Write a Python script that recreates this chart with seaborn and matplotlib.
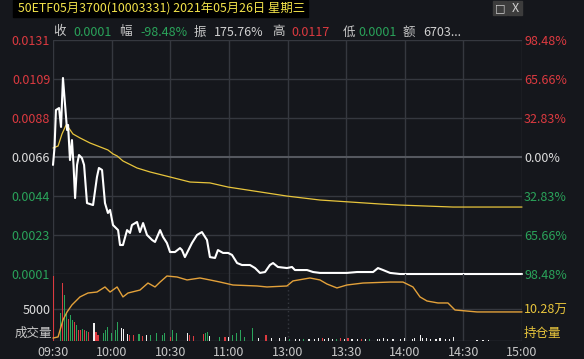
import numpy as np
import pandas as pd
import seaborn as sns
import matplotlib.pyplot as plt
from matplotlib.patches import Rectangle

# 分时数据：分钟序号 (0 = 09:30, 120 = 11:30/13:00, 240 = 15:00)
price_min = [0, 0.8, 1.5, 3.1, 4.1, 5.1, 6.1, 7.2, 7.7, 8.7, 9.7, 10.5, 11.3, 12.3, 13.3,
             14.8, 15.9, 17.4, 20.5, 22.5, 23.5, 25.1, 26.6, 28.1, 29.2, 30.7, 33.3, 34.3,
             35.8, 37.9, 39.4, 40.4, 43.0, 44.5, 46.1, 48.1, 50.7, 52.2, 54.8, 56.3, 58.3,
             59.9, 62.4, 65.0, 66.0, 67.5, 71.1, 73.7, 76.2, 78.8, 80.3, 82.9, 84.4, 87.0,
             89.6, 91.6, 94.2, 96.7, 100.8, 103.4, 105.9, 108.5, 111.0, 112.6, 115.1, 119.7,
             122.3, 123.8, 130.0, 133.1, 136.6, 143.3, 150.4, 155.6, 160.7, 163.8, 166.3,
             168.9, 172.5, 177.6, 240]
price = [0.00616, 0.00716, 0.00921, 0.00932, 0.00827, 0.01099, 0.0096, 0.0081, 0.00838,
         0.00643, 0.00754, 0.00616, 0.00432, 0.00616, 0.00671, 0.00654, 0.00616, 0.00404,
         0.00393, 0.00549, 0.00599, 0.00588, 0.00404, 0.00349, 0.00366, 0.00282, 0.00254,
         0.00171, 0.00171, 0.00254, 0.00238, 0.00282, 0.00299, 0.00243, 0.00293, 0.00227,
         0.00199, 0.00188, 0.00254, 0.00216, 0.00182, 0.00132, 0.00132, 0.00154, 0.00143,
         0.00104, 0.00182, 0.00227, 0.00243, 0.00199, 0.00104, 0.00099, 0.00143, 0.00127,
         0.00127, 0.00116, 0.00071, 0.0006, 0.0006, 0.00043, 0.00016, 0.00021, 0.0006,
         0.00071, 0.00049, 0.00043, 0.00049, 0.00032, 0.00032, 0.00021, 0.00016, 0.00016,
         0.00016, 0.00021, 0.00021, 0.00021, 0.00043, 0.00032, 0.00016, 0.0001, 0.0001]

avg_min = [0, 2.6, 4.6, 6.7, 7.7, 10.2, 13.8, 18.9, 24.1, 28.1, 30.7, 32.8, 35.8, 43.0,
           49.6, 59.9, 70.1, 80.3, 89.6, 105.9, 119.7, 136.6, 152.0, 167.3, 177.6, 204.7, 240]
avg_price = [0.0071, 0.00721, 0.00788, 0.00838, 0.00827, 0.00788, 0.00766, 0.00738, 0.00716,
             0.00699, 0.00677, 0.00666, 0.00638, 0.00599, 0.00577, 0.00549, 0.00521, 0.00516,
             0.00493, 0.00466, 0.00443, 0.00421, 0.0041, 0.00399, 0.00393, 0.00382, 0.00382]

# 持仓量 (万)
oi_min = [0, 2.6, 5.1, 7.2, 9.7, 13.8, 17.9, 22.5, 26.6, 29.2, 32.8, 35.8, 38.4, 44.5, 48.6,
          52.2, 54.8, 58.3, 63.5, 68.6, 75.2, 80.3, 85.5, 92.1, 104.4, 109.5, 119.7, 122.8,
          131.5, 136.6, 140.2, 145.3, 150.4, 158.6, 172.5, 179.1, 184.2, 187.8, 191.4, 197.0,
          202.1, 205.7, 217.0, 240]
oi_wan = [8.21, 8.29, 9.50, 10.07, 10.57, 11.14, 11.42, 11.49, 11.85, 11.49, 11.85, 11.14,
          11.42, 11.63, 12.13, 11.85, 12.20, 12.63, 12.56, 12.35, 12.49, 12.35, 12.20, 11.99,
          11.92, 11.85, 11.92, 12.28, 12.49, 12.35, 12.06, 11.78, 11.99, 12.13, 12.20, 12.20,
          11.85, 11.14, 10.85, 10.71, 10.71, 10.21, 10.07, 10.07]

# 成交量: r 上涨, g 下跌, w 平
vol_min = [0, 4, 5, 6, 7, 8, 9, 10, 11, 12, 13, 14, 15, 16, 17, 18, 21, 22, 23, 26, 27, 28,
           30, 32, 33, 35, 36, 38, 39, 41, 44, 46, 48, 50, 53, 56, 57, 60, 61, 63, 69, 70,
           72, 77, 78, 79, 80, 85, 88, 90, 92, 94, 96, 98, 102, 105, 109, 112, 116, 119,
           121, 124, 126, 128, 131, 134, 136, 138, 139, 141, 143, 145, 147, 149, 151, 153,
           156, 158, 160, 162, 166, 167, 169, 171, 174, 178, 180, 184, 185, 188, 189, 191,
           193, 196, 198, 201, 203, 205, 217, 220, 223]
vol_qty = [10200, 4400, 9000, 7200, 4400, 3500, 4100, 3300, 3000, 2500, 1700, 1700, 1900,
           1700, 1600, 1400, 2800, 1400, 900, 1300, 1700, 2200, 1200, 1700, 3000, 2000, 1900,
           1100, 900, 900, 1100, 800, 900, 900, 1200, 1000, 1200, 700, 1700, 1250, 1250, 900,
           800, 1100, 1250, 1400, 800, 600, 600, 700, 900, 1200, 1700, 600, 2000, 500, 900,
           500, 500, 700,
           300, 300, 300, 350, 300, 300, 400, 500, 300, 400, 300, 350, 400, 300, 400, 300,
           300, 350, 300, 350, 300, 300, 500, 350, 300, 300, 450, 350, 400, 900, 400, 500,
           300, 250, 400, 300, 250, 700, 200, 200, 200]
vol_dir = ['r', 'g', 'r', 'g', 'g', 'r', 'g', 'g', 'r', 'g', 'r', 'r', 'g', 'r', 'g', 'r',
           'w', 'r', 'r', 'g', 'g', 'g', 'g', 'g', 'g', 'w', 'w', 'w', 'r', 'r', 'g', 'r',
           'w', 'g', 'g', 'g', 'g', 'r', 'g', 'g', 'w', 'r', 'r', 'r', 'g', 'g', 'w', 'g',
           'r', 'w', 'g', 'g', 'g', 'g', 'g', 'w', 'r', 'w', 'w', 'w',
           'g', 'w', 'w', 'g', 'w', 'w', 'w', 'r', 'w', 'w', 'w', 'g', 'r', 'w', 'r', 'w',
           'w', 'r', 'w', 'g', 'w', 'w', 'w', 'w', 'w', 'w', 'w', 'w', 'w', 'w', 'w', 'w',
           'w', 'w', 'w', 'w', 'w', 'w', 'w', 'w', 'w']

pre_close = 0.0066
step = 0.0065 / 3
time_ticks = [0, 30, 60, 90, 120, 150, 180, 210, 240]
time_labels = ['09:30', '10:00', '10:30', '11:00', '13:00', '13:30', '14:00', '14:30', '15:00']

BG = '#15171c'
GRID = '#35383f'
RED = '#dc3a40'
GREEN = '#2aa35a'
WHITE = '#dedede'
YELLOW = '#e8c53c'
ORANGE = '#e3a13a'

sns.set_theme(style='dark', rc={'axes.facecolor': BG, 'figure.facecolor': BG})
plt.rcParams['font.family'] = ['Noto Sans CJK SC', 'DejaVu Sans']

W, H = 584, 359
fig = plt.figure(figsize=(W / 100, H / 100), dpi=100, facecolor=BG)


def fx(x):
    return x / W


def fy(y):
    return 1 - y / H


ax = fig.add_axes([fx(53), fy(274), 469 / W, 234 / H])
axv = fig.add_axes([fx(53), fy(341), 469 / W, 67 / H])

for a in (ax, axv):
    a.set_facecolor('none')
    a.set_xlim(0, 240)
    for s in a.spines.values():
        s.set_visible(False)
ax.set_ylim(0.0001, 0.0131)
axv.set_ylim(0, 10469)

for t in time_ticks:
    ax.axvline(t, color=GRID, lw=1.0, zorder=0)
    axv.axvline(t, color=GRID, lw=1.0, zorder=0, ls=(0, (1, 2)) if t == 120 else '-')

price_ticks = [pre_close + k * step for k in range(-3, 4)]
for p in price_ticks:
    if abs(p - pre_close) < 1e-9:
        ax.axhline(p, color='#55585f', lw=1.5, zorder=0)
    else:
        ax.axhline(p, color=GRID, lw=1.0, zorder=0)
axv.axhline(5000, color=GRID, lw=1.0, zorder=0)
axv.axhline(0, color='#3c3f46', lw=1.0, zorder=0)

# 价格 / 均价
sns.lineplot(x=avg_min, y=avg_price, ax=ax, color=YELLOW, lw=0.9, estimator=None)
sns.lineplot(x=price_min, y=price, ax=ax, color='white', lw=1.5, estimator=None)
for ln in ax.lines[-2:]:
    ln.set_clip_on(False)

# 成交量
vol_df = pd.DataFrame({'m': vol_min, 'v': vol_qty, 'd': vol_dir})
for d, c in [('r', RED), ('g', GREEN), ('w', '#f0f0f0')]:
    sub = vol_df[vol_df['d'] == d]
    axv.bar(sub['m'], sub['v'], width=0.6, color=c, linewidth=0, zorder=2)

# 持仓量
axo = axv.twinx()
axo.set_ylim(8.0, 8.0 + 67 * 0.07125)
sns.lineplot(x=oi_min, y=oi_wan, ax=axo, color=ORANGE, lw=1.0, estimator=None)
axo.lines[-1].set_clip_on(False)

# 左侧价格刻度
ax.set_yticks(price_ticks)
ax.set_yticklabels([f'{p:.4f}' for p in price_ticks])
cols = [GREEN, GREEN, GREEN, WHITE, RED, RED, RED]
for lab, c in zip(ax.get_yticklabels(), cols):
    lab.set_color(c)
ax.tick_params(axis='y', length=0, pad=2, labelsize=9)
ax.set_xticks([])
ax.set_xlabel('')
ax.set_ylabel('')

# 右侧涨跌幅
axr = ax.twinx()
axr.set_ylim(ax.get_ylim())
axr.set_yticks(price_ticks)
axr.set_yticklabels([f'{abs(k) * step / pre_close * 100:.2f}%' for k in range(-3, 4)])
for lab, c in zip(axr.get_yticklabels(), cols):
    lab.set_color(c)
axr.tick_params(axis='y', length=0, pad=1.5, labelsize=9)

axv.set_yticks([5000])
axv.set_yticklabels(['5000'], color=WHITE)
axv.tick_params(axis='y', length=0, pad=2, labelsize=9)
axv.set_xticks(time_ticks)
axv.set_xticklabels(time_labels, color='#c8c8c8')
axv.tick_params(axis='x', length=0, pad=3.5, labelsize=9)
axv.set_xlabel('')
axv.set_ylabel('')

axo.set_yticks([10.28])
axo.set_yticklabels(['10.28万'], color=YELLOW)
axo.tick_params(axis='y', length=0, pad=1.5, labelsize=9)
axo.set_xlabel('')
axo.set_ylabel('')

for a in (ax, axv, axr, axo):
    a.grid(False)
    for s in a.spines.values():
        s.set_visible(False)

fig.text(fx(15), fy(333), '成交量', color='#c8c8c8', fontsize=9, va='center')
fig.text(fx(524), fy(334), '持仓量', color=YELLOW, fontsize=9, va='center')

# 标题栏
fig.patches.append(Rectangle((fx(13), fy(17)), 295 / W, 17 / H, transform=fig.transFigure,
                             color='black', zorder=0))
fig.text(fx(18), fy(8.5), '50ETF05月3700(10003331) 2021年05月26日 星期三',
         color='#f2e24a', fontsize=8.9, va='center')
fig.patches.append(Rectangle((fx(493), fy(15)), 14 / W, 14 / H, transform=fig.transFigure,
                             color='#3c3c3c', zorder=0))
fig.patches.append(Rectangle((fx(508), fy(15)), 14 / W, 14 / H, transform=fig.transFigure,
                             color='#3c3c3c', zorder=0))
fig.text(fx(500), fy(8), '□', color='#d0d0d0', fontsize=8, ha='center', va='center',
         family='DejaVu Sans')
fig.text(fx(515), fy(8), 'X', color='#d0d0d0', fontsize=9, ha='center', va='center')

# 行情信息
info = [('收', 53, '#c8c8c8'), ('0.0001', 73, GREEN), ('幅', 119, '#c8c8c8'),
        ('-98.48%', 140, GREEN), ('振', 194, '#c8c8c8'), ('175.76%', 214, '#d0d0d0'),
        ('高', 272, '#c8c8c8'), ('0.0117', 291, RED), ('低', 343, '#c8c8c8'),
        ('0.0001', 358, GREEN), ('额', 403, '#c8c8c8'), ('6703...', 423, '#d0d0d0')]
for txt, x, c in info:
    fig.text(fx(x), fy(32), txt, color=c, fontsize=9, va='center')

fig.savefig('out.png', dpi=100, facecolor=BG)
